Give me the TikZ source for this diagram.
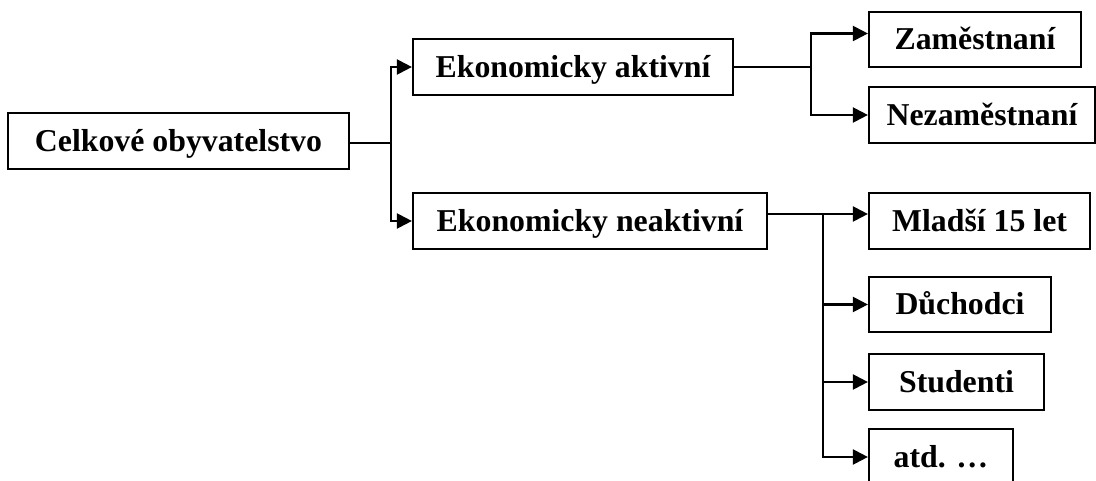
\documentclass[tikz,border=0pt]{standalone}
\usepackage{fontspec}
\setmainfont{Liberation Serif}
\usetikzlibrary{arrows.meta}
\begin{document}
\begin{tikzpicture}[x=1pt,y=-1pt,
  box/.style={draw, line width=2.2pt, inner sep=0pt, minimum height=56pt,
    text height=21pt, text depth=0pt,
    font=\fontsize{31.8}{36}\selectfont\bfseries},
  link/.style={line width=1.6pt},
  arr/.style={line width=2.2pt, -{Triangle[length=15pt,width=15pt]}}]
\clip (0,0) rectangle (1096,481);
% boxes
\node[box, minimum width=341pt] (cel)   at (178.5,141) {Celkové obyvatelstvo};
\node[box, minimum width=320pt] (akt)   at (573,67)    {Ekonomicky aktivní};
\node[box, minimum width=354pt] (neakt) at (590,221)   {Ekonomicky neaktivní};
\node[box, minimum width=212pt, minimum height=55pt] (zam) at (975,39.5) {Zaměstnaní};
\node[box, minimum width=226pt] (nezam) at (982,115)   {Nezaměstnaní};
\node[box, minimum width=221pt] (mlad)  at (979.5,221) {Mladší 15 let};
\node[box, minimum width=182pt, minimum height=55pt] (duch) at (960,304.5) {Důchodci};
\node[box, minimum width=175pt] (stud)  at (956.5,382) {Studenti};
\node[box, minimum width=144pt] (atd)   at (941,457)   {atd. …};
% junctions
\coordinate (j1) at (391,143);
\coordinate (j2) at (811,67);
\coordinate (j3) at (823,214);
% connectors
\draw[link] (cel.east |- j1) -- (j1);
\draw[arr] (j1) |- (akt.west);
\draw[arr] (j1) |- (neakt.west);
\draw[link] (akt.east) -- (j2);
\draw[arr] (j2) |- ([yshift=6pt]zam.west);
\draw[arr] (j2) |- (nezam.west);
\draw[link] (neakt.east |- j3) -- (j3);
\draw[arr] (j3) -- (mlad.west |- j3);
\draw[arr] (j3) |- (duch.west);
\draw[arr] (j3) |- (stud.west);
\draw[arr] (j3) |- (atd.west);
\end{tikzpicture}
\end{document}
